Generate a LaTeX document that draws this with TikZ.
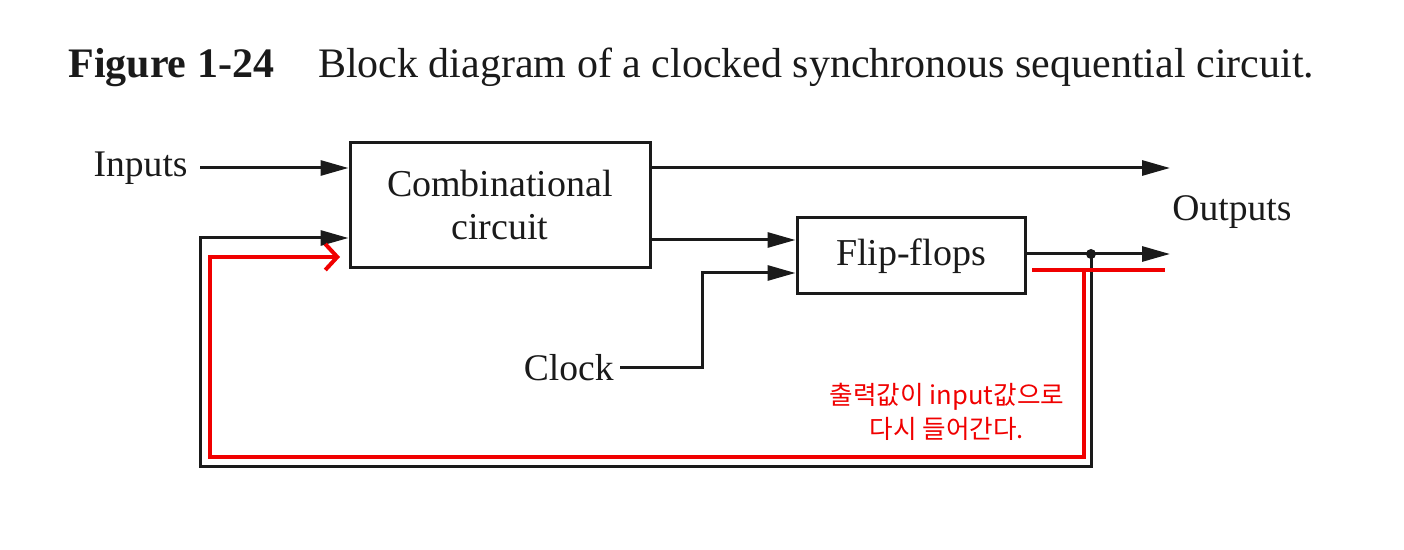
\documentclass[tikz,border=0pt]{standalone}
\usepackage{fontspec}
\setmainfont{Liberation Serif}
\newfontfamily\kor{Noto Sans CJK KR}
\usetikzlibrary{arrows.meta}
\definecolor{ink}{HTML}{1A1A1A}
\definecolor{note}{HTML}{F00000}
\begin{document}
\begin{tikzpicture}[x=0.5pt,y=-0.5pt,
  blk/.style={draw=ink,line width=1.5pt,inner sep=0pt,align=center,font=\fontsize{19}{21.5}\selectfont,text=ink},
  lbl/.style={inner sep=3pt,font=\fontsize{18.8}{21}\selectfont,text=ink},
  wire/.style={draw=ink,line width=1.5pt},
  arr/.style={wire,-{Triangle[length=14pt,width=7.5pt]}},
  redline/.style={draw=note,line width=2pt},
  redarr/.style={redline,-{Straight Barb[length=6pt,width=13pt,line width=2pt]}},
  notetext/.style={text=note,align=center,font=\kor\fontsize{12.8}{17}\selectfont},
  dot/.style={circle,fill=ink,inner sep=0pt,minimum size=5pt}]
\useasboundingbox (0,0) rectangle (1404,550);
% title
\node[anchor=base west,inner sep=0pt,font=\fontsize{21}{24}\selectfont,text=ink] (title) at (68,78)
  {\textbf{Figure 1-24}\hspace{22pt}Block diagram of a clocked synchronous sequential circuit.};
% blocks
\node[blk,minimum width=150pt,minimum height=62.5pt] (comb) at (500,205) {Combinational\\circuit};
\node[blk,minimum width=114pt,minimum height=38pt] (ff) at (911,256) {Flip-flops};
% labels
\node[lbl,anchor=east] (inputs) at (194,168) {Inputs};
\node[lbl,anchor=east] (clock) at (620,368) {Clock};
\node[lbl] (outputs) at (1232,212) {Outputs};
% coordinates
\coordinate (o1) at (1170,168);
\coordinate (o2) at (1170,254);
\coordinate (fbin) at (200,238);
\coordinate (ckin) at (702,273);
\node[dot] (split) at (1091,254) {};
\coordinate (fbr) at (1091,467);
\coordinate (fbl) at (200,467);
% wires
\draw[arr] (inputs.east) ++(6,0) coordinate (inst) (inst) -- (comb.west |- inst);
\draw[arr] (comb.east |- o1) -- (o1);
\draw[arr] (comb.east |- 0,240) -- (ff.west |- 0,240);
\draw[arr] (clock.east) -| (ckin) -- (ff.west |- ckin);
\draw[arr] (ff.east |- o2) -- (o2);
\draw[arr] (split.center) -- (fbr) -- (fbl) -- (fbin) -- (comb.west |- fbin);
% red annotation
\coordinate (r1) at (1032,270);
\coordinate (r2) at (1165,270);
\coordinate (r3) at (1084,270);
\coordinate (r4) at (1084,457);
\coordinate (r5) at (210,457);
\coordinate (r6) at (210,257);
\coordinate (r7) at (340,257);
\draw[redline] (r1) -- (r2);
\draw[redarr] (r3) -- (r4) -- (r5) -- (r6) -- (r7);
\node[notetext] (note) at (947,412) {출력값이 input값으로\\다시 들어간다.};
\end{tikzpicture}
\end{document}
